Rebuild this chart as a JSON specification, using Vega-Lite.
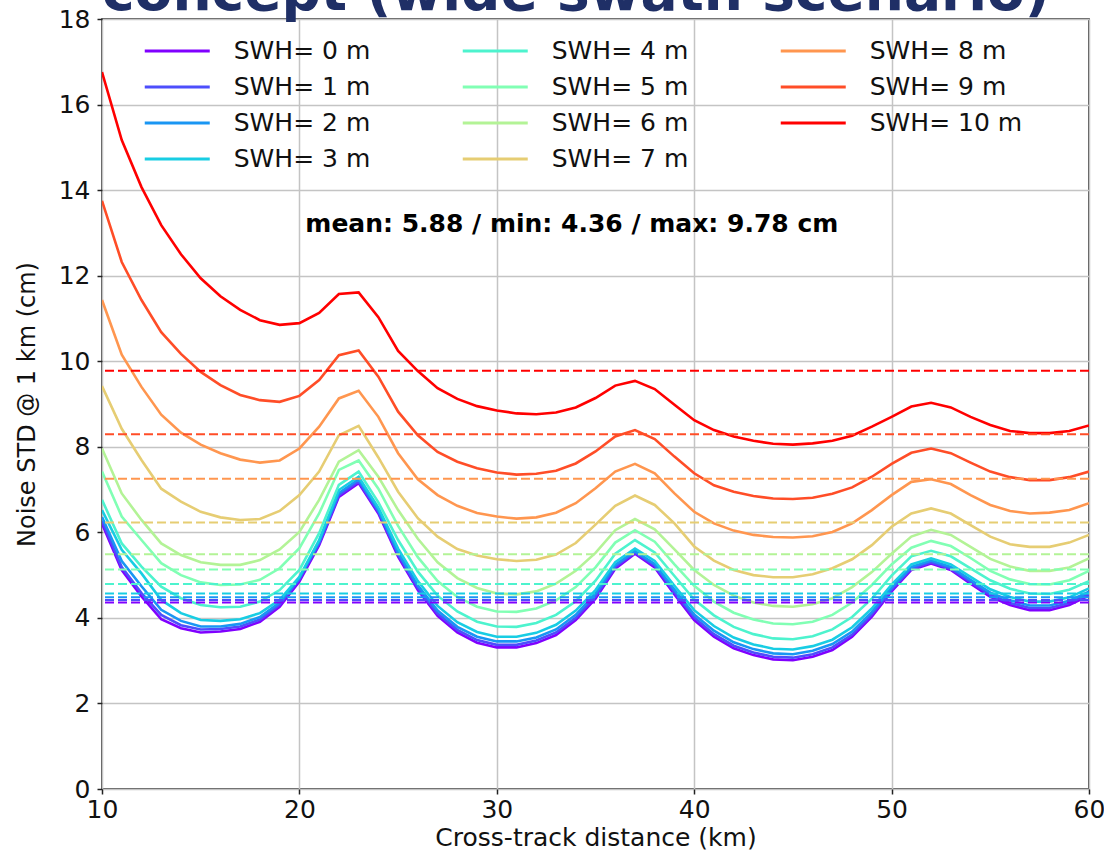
{
  "$schema": "https://vega.github.io/schema/vega-lite/v6.json",
  "width": 987,
  "height": 770,
  "autosize": {"type": "none"},
  "padding": {"left": 102, "top": 19, "right": 15, "bottom": 61},
  "background": "white",
  "title": {"text": "concept (wide swath scenario)", "anchor": "start", "frame": "group", "font": "DejaVu Sans", "fontSize": 55, "fontWeight": "bold", "color": "#1f2f66", "baseline": "alphabetic", "offset": -58},
  "datasets": {
    "curves": [
      {"s":0,"x":10,"y":6.20},{"s":0,"x":11,"y":5.12},{"s":0,"x":12,"y":4.50},{"s":0,"x":13,"y":3.97},{"s":0,"x":14,"y":3.76},{"s":0,"x":15,"y":3.66},{"s":0,"x":16,"y":3.68},{"s":0,"x":17,"y":3.74},{"s":0,"x":18,"y":3.91},{"s":0,"x":19,"y":4.26},{"s":0,"x":20,"y":4.85},
      {"s":0,"x":21,"y":5.70},{"s":0,"x":22,"y":6.83},{"s":0,"x":23,"y":7.15},{"s":0,"x":24,"y":6.44},{"s":0,"x":25,"y":5.43},{"s":0,"x":26,"y":4.65},{"s":0,"x":27,"y":4.05},{"s":0,"x":28,"y":3.66},{"s":0,"x":29,"y":3.42},{"s":0,"x":30,"y":3.31},
      {"s":0,"x":31,"y":3.31},{"s":0,"x":32,"y":3.41},{"s":0,"x":33,"y":3.60},{"s":0,"x":34,"y":3.95},{"s":0,"x":35,"y":4.45},{"s":0,"x":36,"y":5.15},{"s":0,"x":37,"y":5.50},{"s":0,"x":38,"y":5.18},{"s":0,"x":39,"y":4.55},{"s":0,"x":40,"y":3.95},
      {"s":0,"x":41,"y":3.56},{"s":0,"x":42,"y":3.29},{"s":0,"x":43,"y":3.13},{"s":0,"x":44,"y":3.03},{"s":0,"x":45,"y":3.01},{"s":0,"x":46,"y":3.09},{"s":0,"x":47,"y":3.25},{"s":0,"x":48,"y":3.56},{"s":0,"x":49,"y":4.03},{"s":0,"x":50,"y":4.62},
      {"s":0,"x":51,"y":5.12},{"s":0,"x":52,"y":5.27},{"s":0,"x":53,"y":5.12},{"s":0,"x":54,"y":4.80},{"s":0,"x":55,"y":4.49},{"s":0,"x":56,"y":4.30},{"s":0,"x":57,"y":4.18},{"s":0,"x":58,"y":4.18},{"s":0,"x":59,"y":4.30},{"s":0,"x":60,"y":4.52},

      {"s":1,"x":10,"y":6.27},{"s":1,"x":11,"y":5.19},{"s":1,"x":12,"y":4.58},{"s":1,"x":13,"y":4.07},{"s":1,"x":14,"y":3.83},{"s":1,"x":15,"y":3.73},{"s":1,"x":16,"y":3.74},{"s":1,"x":17,"y":3.80},{"s":1,"x":18,"y":3.96},{"s":1,"x":19,"y":4.31},{"s":1,"x":20,"y":4.90},
      {"s":1,"x":21,"y":5.74},{"s":1,"x":22,"y":6.87},{"s":1,"x":23,"y":7.19},{"s":1,"x":24,"y":6.48},{"s":1,"x":25,"y":5.48},{"s":1,"x":26,"y":4.70},{"s":1,"x":27,"y":4.10},{"s":1,"x":28,"y":3.72},{"s":1,"x":29,"y":3.48},{"s":1,"x":30,"y":3.37},
      {"s":1,"x":31,"y":3.37},{"s":1,"x":32,"y":3.47},{"s":1,"x":33,"y":3.66},{"s":1,"x":34,"y":4.00},{"s":1,"x":35,"y":4.50},{"s":1,"x":36,"y":5.19},{"s":1,"x":37,"y":5.53},{"s":1,"x":38,"y":5.22},{"s":1,"x":39,"y":4.60},{"s":1,"x":40,"y":4.01},
      {"s":1,"x":41,"y":3.62},{"s":1,"x":42,"y":3.35},{"s":1,"x":43,"y":3.19},{"s":1,"x":44,"y":3.09},{"s":1,"x":45,"y":3.07},{"s":1,"x":46,"y":3.15},{"s":1,"x":47,"y":3.31},{"s":1,"x":48,"y":3.61},{"s":1,"x":49,"y":4.08},{"s":1,"x":50,"y":4.66},
      {"s":1,"x":51,"y":5.15},{"s":1,"x":52,"y":5.30},{"s":1,"x":53,"y":5.15},{"s":1,"x":54,"y":4.84},{"s":1,"x":55,"y":4.54},{"s":1,"x":56,"y":4.35},{"s":1,"x":57,"y":4.23},{"s":1,"x":58,"y":4.23},{"s":1,"x":59,"y":4.35},{"s":1,"x":60,"y":4.56},

      {"s":2,"x":10,"y":6.36},{"s":2,"x":11,"y":5.33},{"s":2,"x":12,"y":4.74},{"s":2,"x":13,"y":4.19},{"s":2,"x":14,"y":3.93},{"s":2,"x":15,"y":3.80},{"s":2,"x":16,"y":3.80},{"s":2,"x":17,"y":3.86},{"s":2,"x":18,"y":4.02},{"s":2,"x":19,"y":4.36},{"s":2,"x":20,"y":4.93},
      {"s":2,"x":21,"y":5.78},{"s":2,"x":22,"y":6.92},{"s":2,"x":23,"y":7.24},{"s":2,"x":24,"y":6.52},{"s":2,"x":25,"y":5.53},{"s":2,"x":26,"y":4.76},{"s":2,"x":27,"y":4.17},{"s":2,"x":28,"y":3.79},{"s":2,"x":29,"y":3.56},{"s":2,"x":30,"y":3.45},
      {"s":2,"x":31,"y":3.45},{"s":2,"x":32,"y":3.54},{"s":2,"x":33,"y":3.73},{"s":2,"x":34,"y":4.07},{"s":2,"x":35,"y":4.57},{"s":2,"x":36,"y":5.24},{"s":2,"x":37,"y":5.56},{"s":2,"x":38,"y":5.26},{"s":2,"x":39,"y":4.66},{"s":2,"x":40,"y":4.08},
      {"s":2,"x":41,"y":3.70},{"s":2,"x":42,"y":3.43},{"s":2,"x":43,"y":3.27},{"s":2,"x":44,"y":3.17},{"s":2,"x":45,"y":3.15},{"s":2,"x":46,"y":3.23},{"s":2,"x":47,"y":3.39},{"s":2,"x":48,"y":3.68},{"s":2,"x":49,"y":4.14},{"s":2,"x":50,"y":4.71},
      {"s":2,"x":51,"y":5.19},{"s":2,"x":52,"y":5.34},{"s":2,"x":53,"y":5.19},{"s":2,"x":54,"y":4.89},{"s":2,"x":55,"y":4.59},{"s":2,"x":56,"y":4.41},{"s":2,"x":57,"y":4.29},{"s":2,"x":58,"y":4.29},{"s":2,"x":59,"y":4.40},{"s":2,"x":60,"y":4.61},

      {"s":3,"x":10,"y":6.52},{"s":3,"x":11,"y":5.59},{"s":3,"x":12,"y":5.04},{"s":3,"x":13,"y":4.42},{"s":3,"x":14,"y":4.11},{"s":3,"x":15,"y":3.95},{"s":3,"x":16,"y":3.93},{"s":3,"x":17,"y":3.97},{"s":3,"x":18,"y":4.11},{"s":3,"x":19,"y":4.42},{"s":3,"x":20,"y":4.96},
      {"s":3,"x":21,"y":5.82},{"s":3,"x":22,"y":6.99},{"s":3,"x":23,"y":7.30},{"s":3,"x":24,"y":6.58},{"s":3,"x":25,"y":5.62},{"s":3,"x":26,"y":4.86},{"s":3,"x":27,"y":4.28},{"s":3,"x":28,"y":3.90},{"s":3,"x":29,"y":3.67},{"s":3,"x":30,"y":3.56},
      {"s":3,"x":31,"y":3.56},{"s":3,"x":32,"y":3.65},{"s":3,"x":33,"y":3.84},{"s":3,"x":34,"y":4.17},{"s":3,"x":35,"y":4.65},{"s":3,"x":36,"y":5.30},{"s":3,"x":37,"y":5.62},{"s":3,"x":38,"y":5.33},{"s":3,"x":39,"y":4.75},{"s":3,"x":40,"y":4.18},
      {"s":3,"x":41,"y":3.81},{"s":3,"x":42,"y":3.54},{"s":3,"x":43,"y":3.38},{"s":3,"x":44,"y":3.28},{"s":3,"x":45,"y":3.26},{"s":3,"x":46,"y":3.34},{"s":3,"x":47,"y":3.49},{"s":3,"x":48,"y":3.78},{"s":3,"x":49,"y":4.22},{"s":3,"x":50,"y":4.78},
      {"s":3,"x":51,"y":5.25},{"s":3,"x":52,"y":5.39},{"s":3,"x":53,"y":5.25},{"s":3,"x":54,"y":4.96},{"s":3,"x":55,"y":4.67},{"s":3,"x":56,"y":4.49},{"s":3,"x":57,"y":4.38},{"s":3,"x":58,"y":4.38},{"s":3,"x":59,"y":4.48},{"s":3,"x":60,"y":4.69},

      {"s":4,"x":10,"y":6.76},{"s":4,"x":11,"y":5.74},{"s":4,"x":12,"y":5.20},{"s":4,"x":13,"y":4.73},{"s":4,"x":14,"y":4.46},{"s":4,"x":15,"y":4.30},{"s":4,"x":16,"y":4.25},{"s":4,"x":17,"y":4.26},{"s":4,"x":18,"y":4.38},{"s":4,"x":19,"y":4.65},{"s":4,"x":20,"y":5.12},
      {"s":4,"x":21,"y":5.98},{"s":4,"x":22,"y":7.11},{"s":4,"x":23,"y":7.42},{"s":4,"x":24,"y":6.70},{"s":4,"x":25,"y":5.82},{"s":4,"x":26,"y":5.08},{"s":4,"x":27,"y":4.52},{"s":4,"x":28,"y":4.15},{"s":4,"x":29,"y":3.91},{"s":4,"x":30,"y":3.80},
      {"s":4,"x":31,"y":3.79},{"s":4,"x":32,"y":3.88},{"s":4,"x":33,"y":4.07},{"s":4,"x":34,"y":4.39},{"s":4,"x":35,"y":4.87},{"s":4,"x":36,"y":5.50},{"s":4,"x":37,"y":5.82},{"s":4,"x":38,"y":5.53},{"s":4,"x":39,"y":4.98},{"s":4,"x":40,"y":4.43},
      {"s":4,"x":41,"y":4.06},{"s":4,"x":42,"y":3.79},{"s":4,"x":43,"y":3.62},{"s":4,"x":44,"y":3.52},{"s":4,"x":45,"y":3.50},{"s":4,"x":46,"y":3.57},{"s":4,"x":47,"y":3.73},{"s":4,"x":48,"y":4.02},{"s":4,"x":49,"y":4.45},{"s":4,"x":50,"y":4.99},
      {"s":4,"x":51,"y":5.44},{"s":4,"x":52,"y":5.57},{"s":4,"x":53,"y":5.44},{"s":4,"x":54,"y":5.16},{"s":4,"x":55,"y":4.88},{"s":4,"x":56,"y":4.68},{"s":4,"x":57,"y":4.57},{"s":4,"x":58,"y":4.56},{"s":4,"x":59,"y":4.66},{"s":4,"x":60,"y":4.86},

      {"s":5,"x":10,"y":7.42},{"s":5,"x":11,"y":6.37},{"s":5,"x":12,"y":5.82},{"s":5,"x":13,"y":5.28},{"s":5,"x":14,"y":5.00},{"s":5,"x":15,"y":4.83},{"s":5,"x":16,"y":4.77},{"s":5,"x":17,"y":4.78},{"s":5,"x":18,"y":4.89},{"s":5,"x":19,"y":5.16},{"s":5,"x":20,"y":5.63},
      {"s":5,"x":21,"y":6.44},{"s":5,"x":22,"y":7.46},{"s":5,"x":23,"y":7.68},{"s":5,"x":24,"y":7.02},{"s":5,"x":25,"y":6.15},{"s":5,"x":26,"y":5.42},{"s":5,"x":27,"y":4.86},{"s":5,"x":28,"y":4.49},{"s":5,"x":29,"y":4.26},{"s":5,"x":30,"y":4.15},
      {"s":5,"x":31,"y":4.14},{"s":5,"x":32,"y":4.22},{"s":5,"x":33,"y":4.41},{"s":5,"x":34,"y":4.72},{"s":5,"x":35,"y":5.18},{"s":5,"x":36,"y":5.76},{"s":5,"x":37,"y":6.05},{"s":5,"x":38,"y":5.78},{"s":5,"x":39,"y":5.25},{"s":5,"x":40,"y":4.75},
      {"s":5,"x":41,"y":4.38},{"s":5,"x":42,"y":4.12},{"s":5,"x":43,"y":3.96},{"s":5,"x":44,"y":3.87},{"s":5,"x":45,"y":3.85},{"s":5,"x":46,"y":3.91},{"s":5,"x":47,"y":4.07},{"s":5,"x":48,"y":4.36},{"s":5,"x":49,"y":4.77},{"s":5,"x":50,"y":5.25},
      {"s":5,"x":51,"y":5.64},{"s":5,"x":52,"y":5.80},{"s":5,"x":53,"y":5.68},{"s":5,"x":54,"y":5.40},{"s":5,"x":55,"y":5.10},{"s":5,"x":56,"y":4.90},{"s":5,"x":57,"y":4.79},{"s":5,"x":58,"y":4.78},{"s":5,"x":59,"y":4.88},{"s":5,"x":60,"y":5.10},

      {"s":6,"x":10,"y":7.96},{"s":6,"x":11,"y":6.91},{"s":6,"x":12,"y":6.29},{"s":6,"x":13,"y":5.74},{"s":6,"x":14,"y":5.47},{"s":6,"x":15,"y":5.30},{"s":6,"x":16,"y":5.24},{"s":6,"x":17,"y":5.24},{"s":6,"x":18,"y":5.35},{"s":6,"x":19,"y":5.60},{"s":6,"x":20,"y":6.01},
      {"s":6,"x":21,"y":6.76},{"s":6,"x":22,"y":7.65},{"s":6,"x":23,"y":7.92},{"s":6,"x":24,"y":7.30},{"s":6,"x":25,"y":6.52},{"s":6,"x":26,"y":5.85},{"s":6,"x":27,"y":5.30},{"s":6,"x":28,"y":4.93},{"s":6,"x":29,"y":4.70},{"s":6,"x":30,"y":4.57},
      {"s":6,"x":31,"y":4.55},{"s":6,"x":32,"y":4.62},{"s":6,"x":33,"y":4.80},{"s":6,"x":34,"y":5.10},{"s":6,"x":35,"y":5.52},{"s":6,"x":36,"y":6.05},{"s":6,"x":37,"y":6.31},{"s":6,"x":38,"y":6.07},{"s":6,"x":39,"y":5.60},{"s":6,"x":40,"y":5.12},
      {"s":6,"x":41,"y":4.77},{"s":6,"x":42,"y":4.52},{"s":6,"x":43,"y":4.36},{"s":6,"x":44,"y":4.28},{"s":6,"x":45,"y":4.26},{"s":6,"x":46,"y":4.32},{"s":6,"x":47,"y":4.46},{"s":6,"x":48,"y":4.72},{"s":6,"x":49,"y":5.07},{"s":6,"x":50,"y":5.50},
      {"s":6,"x":51,"y":5.90},{"s":6,"x":52,"y":6.06},{"s":6,"x":53,"y":5.94},{"s":6,"x":54,"y":5.66},{"s":6,"x":55,"y":5.38},{"s":6,"x":56,"y":5.20},{"s":6,"x":57,"y":5.10},{"s":6,"x":58,"y":5.10},{"s":6,"x":59,"y":5.18},{"s":6,"x":60,"y":5.39},

      {"s":7,"x":10,"y":9.42},{"s":7,"x":11,"y":8.42},{"s":7,"x":12,"y":7.69},{"s":7,"x":13,"y":7.02},{"s":7,"x":14,"y":6.72},{"s":7,"x":15,"y":6.48},{"s":7,"x":16,"y":6.35},{"s":7,"x":17,"y":6.29},{"s":7,"x":18,"y":6.31},{"s":7,"x":19,"y":6.50},{"s":7,"x":20,"y":6.87},
      {"s":7,"x":21,"y":7.42},{"s":7,"x":22,"y":8.27},{"s":7,"x":23,"y":8.49},{"s":7,"x":24,"y":7.75},{"s":7,"x":25,"y":6.95},{"s":7,"x":26,"y":6.33},{"s":7,"x":27,"y":5.90},{"s":7,"x":28,"y":5.61},{"s":7,"x":29,"y":5.46},{"s":7,"x":30,"y":5.37},
      {"s":7,"x":31,"y":5.33},{"s":7,"x":32,"y":5.36},{"s":7,"x":33,"y":5.48},{"s":7,"x":34,"y":5.75},{"s":7,"x":35,"y":6.18},{"s":7,"x":36,"y":6.62},{"s":7,"x":37,"y":6.86},{"s":7,"x":38,"y":6.64},{"s":7,"x":39,"y":6.21},{"s":7,"x":40,"y":5.67},
      {"s":7,"x":41,"y":5.34},{"s":7,"x":42,"y":5.12},{"s":7,"x":43,"y":5.00},{"s":7,"x":44,"y":4.95},{"s":7,"x":45,"y":4.95},{"s":7,"x":46,"y":5.02},{"s":7,"x":47,"y":5.16},{"s":7,"x":48,"y":5.37},{"s":7,"x":49,"y":5.70},{"s":7,"x":50,"y":6.13},
      {"s":7,"x":51,"y":6.44},{"s":7,"x":52,"y":6.56},{"s":7,"x":53,"y":6.44},{"s":7,"x":54,"y":6.17},{"s":7,"x":55,"y":5.90},{"s":7,"x":56,"y":5.72},{"s":7,"x":57,"y":5.66},{"s":7,"x":58,"y":5.66},{"s":7,"x":59,"y":5.76},{"s":7,"x":60,"y":5.94},

      {"s":8,"x":10,"y":11.43},{"s":8,"x":11,"y":10.15},{"s":8,"x":12,"y":9.40},{"s":8,"x":13,"y":8.75},{"s":8,"x":14,"y":8.33},{"s":8,"x":15,"y":8.05},{"s":8,"x":16,"y":7.85},{"s":8,"x":17,"y":7.70},{"s":8,"x":18,"y":7.63},{"s":8,"x":19,"y":7.68},{"s":8,"x":20,"y":7.96},
      {"s":8,"x":21,"y":8.47},{"s":8,"x":22,"y":9.13},{"s":8,"x":23,"y":9.31},{"s":8,"x":24,"y":8.70},{"s":8,"x":25,"y":7.85},{"s":8,"x":26,"y":7.24},{"s":8,"x":27,"y":6.87},{"s":8,"x":28,"y":6.62},{"s":8,"x":29,"y":6.45},{"s":8,"x":30,"y":6.37},
      {"s":8,"x":31,"y":6.32},{"s":8,"x":32,"y":6.35},{"s":8,"x":33,"y":6.46},{"s":8,"x":34,"y":6.68},{"s":8,"x":35,"y":7.03},{"s":8,"x":36,"y":7.42},{"s":8,"x":37,"y":7.60},{"s":8,"x":38,"y":7.38},{"s":8,"x":39,"y":6.91},{"s":8,"x":40,"y":6.48},
      {"s":8,"x":41,"y":6.21},{"s":8,"x":42,"y":6.04},{"s":8,"x":43,"y":5.94},{"s":8,"x":44,"y":5.89},{"s":8,"x":45,"y":5.88},{"s":8,"x":46,"y":5.91},{"s":8,"x":47,"y":6.01},{"s":8,"x":48,"y":6.21},{"s":8,"x":49,"y":6.52},{"s":8,"x":50,"y":6.87},
      {"s":8,"x":51,"y":7.18},{"s":8,"x":52,"y":7.24},{"s":8,"x":53,"y":7.13},{"s":8,"x":54,"y":6.87},{"s":8,"x":55,"y":6.64},{"s":8,"x":56,"y":6.50},{"s":8,"x":57,"y":6.44},{"s":8,"x":58,"y":6.46},{"s":8,"x":59,"y":6.52},{"s":8,"x":60,"y":6.68},

      {"s":9,"x":10,"y":13.75},{"s":9,"x":11,"y":12.32},{"s":9,"x":12,"y":11.43},{"s":9,"x":13,"y":10.68},{"s":9,"x":14,"y":10.17},{"s":9,"x":15,"y":9.75},{"s":9,"x":16,"y":9.44},{"s":9,"x":17,"y":9.21},{"s":9,"x":18,"y":9.09},{"s":9,"x":19,"y":9.05},{"s":9,"x":20,"y":9.19},
      {"s":9,"x":21,"y":9.56},{"s":9,"x":22,"y":10.14},{"s":9,"x":23,"y":10.25},{"s":9,"x":24,"y":9.64},{"s":9,"x":25,"y":8.82},{"s":9,"x":26,"y":8.27},{"s":9,"x":27,"y":7.88},{"s":9,"x":28,"y":7.65},{"s":9,"x":29,"y":7.50},{"s":9,"x":30,"y":7.40},
      {"s":9,"x":31,"y":7.35},{"s":9,"x":32,"y":7.37},{"s":9,"x":33,"y":7.44},{"s":9,"x":34,"y":7.61},{"s":9,"x":35,"y":7.89},{"s":9,"x":36,"y":8.24},{"s":9,"x":37,"y":8.39},{"s":9,"x":38,"y":8.18},{"s":9,"x":39,"y":7.77},{"s":9,"x":40,"y":7.38},
      {"s":9,"x":41,"y":7.10},{"s":9,"x":42,"y":6.95},{"s":9,"x":43,"y":6.85},{"s":9,"x":44,"y":6.79},{"s":9,"x":45,"y":6.78},{"s":9,"x":46,"y":6.81},{"s":9,"x":47,"y":6.90},{"s":9,"x":48,"y":7.05},{"s":9,"x":49,"y":7.30},{"s":9,"x":50,"y":7.60},
      {"s":9,"x":51,"y":7.86},{"s":9,"x":52,"y":7.96},{"s":9,"x":53,"y":7.85},{"s":9,"x":54,"y":7.63},{"s":9,"x":55,"y":7.42},{"s":9,"x":56,"y":7.29},{"s":9,"x":57,"y":7.22},{"s":9,"x":58,"y":7.22},{"s":9,"x":59,"y":7.29},{"s":9,"x":60,"y":7.42},

      {"s":10,"x":10,"y":16.76},{"s":10,"x":11,"y":15.17},{"s":10,"x":12,"y":14.07},{"s":10,"x":13,"y":13.18},{"s":10,"x":14,"y":12.50},{"s":10,"x":15,"y":11.94},{"s":10,"x":16,"y":11.52},{"s":10,"x":17,"y":11.20},{"s":10,"x":18,"y":10.96},{"s":10,"x":19,"y":10.85},{"s":10,"x":20,"y":10.89},
      {"s":10,"x":21,"y":11.13},{"s":10,"x":22,"y":11.57},{"s":10,"x":23,"y":11.61},{"s":10,"x":24,"y":11.03},{"s":10,"x":25,"y":10.24},{"s":10,"x":26,"y":9.77},{"s":10,"x":27,"y":9.37},{"s":10,"x":28,"y":9.12},{"s":10,"x":29,"y":8.95},{"s":10,"x":30,"y":8.85},
      {"s":10,"x":31,"y":8.78},{"s":10,"x":32,"y":8.76},{"s":10,"x":33,"y":8.80},{"s":10,"x":34,"y":8.92},{"s":10,"x":35,"y":9.14},{"s":10,"x":36,"y":9.43},{"s":10,"x":37,"y":9.54},{"s":10,"x":38,"y":9.35},{"s":10,"x":39,"y":8.98},{"s":10,"x":40,"y":8.62},
      {"s":10,"x":41,"y":8.39},{"s":10,"x":42,"y":8.24},{"s":10,"x":43,"y":8.14},{"s":10,"x":44,"y":8.07},{"s":10,"x":45,"y":8.05},{"s":10,"x":46,"y":8.08},{"s":10,"x":47,"y":8.14},{"s":10,"x":48,"y":8.26},{"s":10,"x":49,"y":8.47},{"s":10,"x":50,"y":8.70},
      {"s":10,"x":51,"y":8.94},{"s":10,"x":52,"y":9.03},{"s":10,"x":53,"y":8.92},{"s":10,"x":54,"y":8.70},{"s":10,"x":55,"y":8.51},{"s":10,"x":56,"y":8.37},{"s":10,"x":57,"y":8.32},{"s":10,"x":58,"y":8.32},{"s":10,"x":59,"y":8.37},{"s":10,"x":60,"y":8.50}
    ],
    "means": [
      {"s":0,"m":4.36},{"s":1,"m":4.42},{"s":2,"m":4.48},{"s":3,"m":4.57},{"s":4,"m":4.79},{"s":5,"m":5.13},{"s":6,"m":5.49},{"s":7,"m":6.23},{"s":8,"m":7.25},{"s":9,"m":8.29},{"s":10,"m":9.78}
    ],
    "note": [
      {"x":33.8,"y":13.2,"t":"mean: 5.88 / min: 4.36 / max: 9.78 cm"}
    ]
  },
  "layer": [
    {
      "data": {"name": "curves"},
      "mark": {"type": "line", "strokeWidth": 2.6, "clip": true},
      "encoding": {
        "x": {"field": "x", "type": "quantitative", "scale": {"domain": [10, 60], "nice": false, "zero": false},
          "axis": {"values": [10, 20, 30, 40, 50, 60], "title": "Cross-track distance (km)", "titlePadding": 3, "labelFlush": false}},
        "y": {"field": "y", "type": "quantitative", "scale": {"domain": [0, 18], "nice": false},
          "axis": {"values": [0, 2, 4, 6, 8, 10, 12, 14, 16, 18], "title": "Noise STD @ 1 km (cm)", "titlePadding": 19, "titleFontSize": 24, "labelFlush": false}},
        "color": {"field": "s", "type": "nominal",
          "scale": {"domain": [0, 1, 2, 3, 4, 5, 6, 7, 8, 9, 10],
            "range": ["#8000ff", "#4d4efc", "#1996f3", "#18cde3", "#4df3ce", "#81ffb4", "#b3f396", "#e6cd73", "#ff964f", "#ff4d27", "#ff0000"]},
          "legend": {"title": null, "orient": "none", "legendX": 41, "legendY": 14, "columns": 3,
            "labelExpr": "'SWH= ' + datum.label + ' m'",
            "symbolType": "M-2,0H2", "symbolSize": 1056.25, "symbolStrokeWidth": 3, "symbolOffset": 16.25,
            "labelFontSize": 25, "labelFont": "DejaVu Sans", "labelColor": "#111", "labelOffset": 38.5,
            "columnPadding": 85, "rowPadding": 5, "padding": 0, "offset": 0}}
      }
    },
    {
      "data": {"name": "means"},
      "mark": {"type": "rule", "strokeDash": [9, 4], "strokeWidth": 2},
      "encoding": {
        "y": {"field": "m", "type": "quantitative"},
        "color": {"field": "s", "type": "nominal", "legend": null,
          "scale": {"domain": [0, 1, 2, 3, 4, 5, 6, 7, 8, 9, 10],
            "range": ["#8000ff", "#4d4efc", "#1996f3", "#18cde3", "#4df3ce", "#81ffb4", "#b3f396", "#e6cd73", "#ff964f", "#ff4d27", "#ff0000"]}}
      }
    },
    {
      "data": {"name": "note"},
      "mark": {"type": "text", "font": "DejaVu Sans", "fontWeight": "bold", "fontSize": 25, "align": "center", "baseline": "middle", "color": "#000"},
      "encoding": {
        "x": {"field": "x", "type": "quantitative"},
        "y": {"field": "y", "type": "quantitative"},
        "text": {"field": "t"}
      }
    }
  ],
  "resolve": {"scale": {"color": "independent"}},
  "config": {
    "font": "DejaVu Sans",
    "view": {"stroke": "#222", "strokeWidth": 1.6},
    "axis": {
      "grid": true, "gridColor": "#c4c4c4", "gridWidth": 1.5, "domain": false,
      "tickColor": "#222", "tickSize": 5, "tickWidth": 1.5,
      "labelFont": "DejaVu Sans", "labelFontSize": 25, "labelColor": "#111", "labelPadding": 3,
      "titleFont": "DejaVu Sans", "titleFontSize": 25, "titleFontWeight": "normal", "titleColor": "#111"
    },
    "axisY": {"labelPadding": 7}
  }
}
